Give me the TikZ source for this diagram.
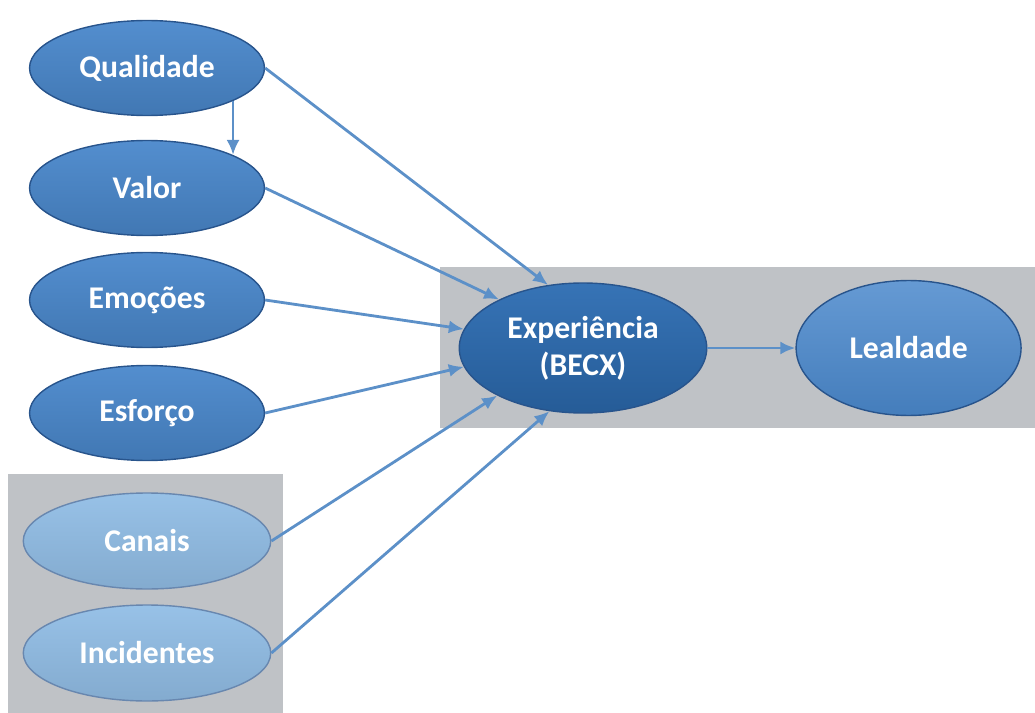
\documentclass[tikz,border=0pt]{standalone}
\usepackage{fontspec}
\setmainfont{Carlito}
\usetikzlibrary{positioning,calc,arrows.meta,shapes.geometric}
\definecolor{boxgray}{RGB}{191,194,198}
\definecolor{linkblue}{RGB}{92,144,200}
\definecolor{midblue}{RGB}{74,136,204}
\definecolor{deepblue}{RGB}{44,108,178}
\definecolor{paleblue}{RGB}{146,190,230}
\definecolor{rimblue}{RGB}{40,84,140}
\tikzset{factor/.style={ellipse,draw=rimblue,thick,top color=midblue!95!white,bottom color=midblue!88!black,
           minimum width=4.7cm,minimum height=1.9cm,text=white,font=\fontsize{18}{21}\selectfont\bfseries},
         context/.style={factor,draw=rimblue!70,top color=paleblue!95!white,bottom color=paleblue!90!black,
           minimum width=4.95cm,minimum height=1.92cm},
         core/.style={factor,top color=deepblue!95!white,bottom color=deepblue!85!black,
           minimum width=4.95cm,minimum height=2.6cm,align=center},
         outcome/.style={factor,top color=midblue!85!white,bottom color=midblue!92!black,
           minimum width=4.5cm,minimum height=2.7cm},
         panel/.style={fill=boxgray,draw=none}
}
\tikzstyle{arrow} = [line width=1.6pt,draw=linkblue,-{Latex[length=3mm,width=2.6mm]}]

\begin{document}
\begin{tikzpicture}[x=0.02cm,y=-0.02cm]
\useasboundingbox (0,0) rectangle (1035,713);

\fill[panel] (440,267) rectangle (1035,428);
\fill[panel] (8,474) rectangle (283,713);

\node[factor] (qualidade) at (147,68) {Qualidade};
\node[factor] (valor) at (147,188) {Valor};
\node[factor] (emocoes) at (147,300) {Emoções};
\node[factor] (esforco) at (147,413) {Esforço};
\node[context] (canais) at (147,541) {Canais};
\node[context] (incidentes) at (147,653) {Incidentes};
\node[core] (becx) at (583,348) {Experiência\\(BECX)};
\node[outcome,right=1.76cm of becx] (lealdade) {Lealdade};

\draw[arrow] (qualidade.-21)--(valor.21);
\draw[arrow] (qualidade.east)--(becx.119);
\draw[arrow] (valor.east)--(becx.150);
\draw[arrow] (emocoes.east)--(becx.171);
\draw[arrow] (esforco.east)--(becx.189);
\draw[arrow] (canais.east)--(becx.209);
\draw[arrow] (incidentes.east)--(becx.242);
\draw[arrow] (becx)--(lealdade);

\end{tikzpicture}
\end{document}
